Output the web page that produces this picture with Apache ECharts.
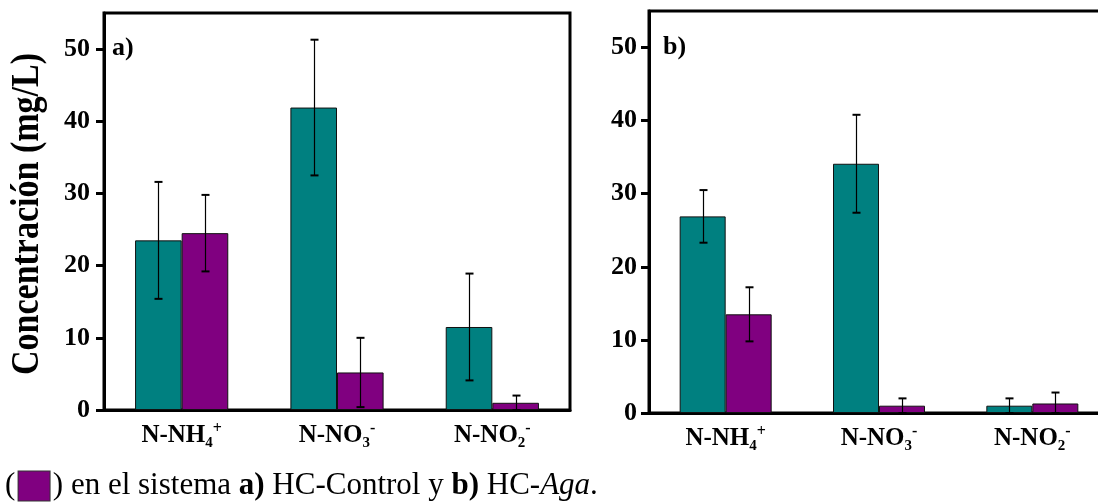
<!DOCTYPE html>
<html>
<head>
<meta charset="utf-8">
<script src="https://cdn.jsdelivr.net/npm/echarts@6/dist/echarts.min.js"></script>
<style>html,body{margin:0;padding:0;background:#fff}#c{width:1098px;height:504px}</style>
</head>
<body>
<div id="c"></div>
<script>
// ---- data ----
const categories = ['N-NH4+', 'N-NO3-', 'N-NO2-'];
const yTicks = [0, 10, 20, 30, 40, 50];
// panel a) HC-Control
const aTeal = [23.5, 41.9, 11.5];
const aTealErr = [8.1, 9.4, 7.4];
const aPurple = [24.5, 5.2, 1.0];
const aPurpleErr = [5.3, 4.8, 1.0];
// panel b) HC-Aga
const bTeal = [26.9, 34.1, 1.0];
const bTealErr = [3.6, 6.7, 1.0];
const bPurple = [13.5, 1.0, 1.3];
const bPurpleErr = [3.7, 1.0, 1.5];

const TEAL = '#008080', PURPLE = '#800080';
const SERIF = "'Liberation Serif', 'Times New Roman', serif";

const labelFmt = {
  'N-NH4+': '{m|N-NH}{sub|4}{sup|+}',
  'N-NO3-': '{m|N-NO}{sub|3}{sup|-}',
  'N-NO2-': '{m|N-NO}{sub|2}{sup|-}'
};
const rich = {
  m: {fontSize: 25, fontWeight: 'bold', fontFamily: SERIF, color: '#000', lineHeight: 30, verticalAlign: 'middle'},
  sub: {fontSize: 15, fontWeight: 'bold', fontFamily: SERIF, color: '#000', lineHeight: 15, verticalAlign: 'bottom'},
  sup: {fontSize: 16, fontWeight: 'bold', fontFamily: SERIF, color: '#000', lineHeight: 15, verticalAlign: 'top'}
};

function errRender(sign) {
  return function (params, api) {
    const ci = api.value(0), v = api.value(1), e = api.value(2);
    const bw = api.size([1, 0])[0];
    const off = sign * bw * 0.15;
    const top = api.coord([ci, v + e]);
    const bot = api.coord([ci, Math.max(v - e, 0)]);
    const x = Math.round(top[0] + off) + 0.5;
    const cap = 4;
    const st = {stroke: '#000', lineWidth: 1.2};
    const cs = {stroke: '#000', lineWidth: 2};
    return {type: 'group', children: [
      {type: 'line', shape: {x1: x, y1: top[1], x2: x, y2: bot[1]}, style: st},
      {type: 'line', shape: {x1: x - cap, y1: top[1], x2: x + cap, y2: top[1]}, style: cs},
      {type: 'line', shape: {x1: x - cap, y1: bot[1], x2: x + cap, y2: bot[1]}, style: cs}
    ]};
  };
}
function errData(vals, errs) { return vals.map((v, i) => [i, v, errs[i]]); }

function xAxisFor(gi) {
  return {
    type: 'category', gridIndex: gi, data: categories,
    axisLine: {lineStyle: {color: '#000', width: 3}},
    axisTick: {alignWithLabel: true, interval: 0, length: 9, lineStyle: {color: '#000', width: 3}},
    axisLabel: {interval: 0, hideOverlap: false, margin: 11, formatter: v => labelFmt[v], rich: rich, color: '#000'}
  };
}
function yAxisFor(gi, margin) {
  return {
    type: 'value', gridIndex: gi, min: 0, max: 55, interval: 10,
    splitLine: {show: false},
    axisLine: {show: true, lineStyle: {color: '#000', width: 3}},
    axisTick: {show: true, length: 8, customValues: yTicks, lineStyle: {color: '#000', width: 3}},
    axisLabel: {margin: margin, customValues: yTicks, color: '#000', fontSize: 26, fontWeight: 'bold', fontFamily: SERIF}
  };
}
const barStyle = c => ({color: c, borderColor: '#111', borderWidth: 1});

const chart = echarts.init(document.getElementById('c'), null, {renderer: 'canvas'});
chart.setOption({
  animation: false,
  backgroundColor: '#fff',
  grid: [
    {left: 104, top: 13, width: 466, height: 397, show: true, borderColor: '#000', borderWidth: 3, backgroundColor: 'transparent', outerBoundsMode: 'none'},
    {left: 649, top: 11, width: 460, height: 402, show: true, borderColor: '#000', borderWidth: 3, backgroundColor: 'transparent', outerBoundsMode: 'none'}
  ],
  xAxis: [xAxisFor(0), xAxisFor(1)],
  yAxis: [yAxisFor(0, 14), yAxisFor(1, 12)],
  series: [
    {type: 'bar', name: 'a-teal', xAxisIndex: 0, yAxisIndex: 0, data: aTeal, barWidth: '30%', barGap: '0%', itemStyle: barStyle(TEAL)},
    {type: 'bar', name: 'a-purple', xAxisIndex: 0, yAxisIndex: 0, data: aPurple, barWidth: '30%', barGap: '0%', itemStyle: barStyle(PURPLE)},
    {type: 'bar', name: 'b-teal', xAxisIndex: 1, yAxisIndex: 1, data: bTeal, barWidth: '30%', barGap: '0%', itemStyle: barStyle(TEAL)},
    {type: 'bar', name: 'b-purple', xAxisIndex: 1, yAxisIndex: 1, data: bPurple, barWidth: '30%', barGap: '0%', itemStyle: barStyle(PURPLE)},
    {type: 'custom', xAxisIndex: 0, yAxisIndex: 0, z: 5, renderItem: errRender(-1), data: errData(aTeal, aTealErr), encode: {x: 0, y: 1}},
    {type: 'custom', xAxisIndex: 0, yAxisIndex: 0, z: 5, renderItem: errRender(1), data: errData(aPurple, aPurpleErr), encode: {x: 0, y: 1}},
    {type: 'custom', xAxisIndex: 1, yAxisIndex: 1, z: 5, renderItem: errRender(-1), data: errData(bTeal, bTealErr), encode: {x: 0, y: 1}},
    {type: 'custom', xAxisIndex: 1, yAxisIndex: 1, z: 5, renderItem: errRender(1), data: errData(bPurple, bPurpleErr), encode: {x: 0, y: 1}}
  ],
  graphic: [
    {type: 'text', x: 28, y: 214, rotation: Math.PI / 2, scaleX: 1, scaleY: 1.18,
      style: {text: 'Concentración (mg/L)', fontSize: 34, fontWeight: 'bold', fontFamily: SERIF, fill: '#000', align: 'center', verticalAlign: 'middle'}},
    {type: 'text', x: 112, y: 48,
      style: {text: 'a)', fontSize: 26, fontWeight: 'bold', fontFamily: SERIF, fill: '#000', align: 'left', verticalAlign: 'middle'}},
    {type: 'text', x: 663, y: 47,
      style: {text: 'b)', fontSize: 26, fontWeight: 'bold', fontFamily: SERIF, fill: '#000', align: 'left', verticalAlign: 'middle'}},
    {type: 'text', x: 5, y: 486,
      style: {
        text: '({g| }{box| }{g| }) en el sistema {b|a)} HC-Control y {b|b)} HC-{i|Aga}.',
        fontSize: 31, fontFamily: SERIF, fill: '#000', align: 'left', verticalAlign: 'middle',
        rich: {
          g: {fontSize: 13, fontFamily: SERIF},
          box: {width: 31, height: 29, backgroundColor: PURPLE, borderColor: '#333', borderWidth: 1, fontSize: 31, fontFamily: SERIF},
          b: {fontSize: 31, fontWeight: 'bold', fontFamily: SERIF, fill: '#000'},
          i: {fontSize: 31, fontStyle: 'italic', fontFamily: SERIF, fill: '#000'}
        }
      }}
  ]
});
</script>
</body>
</html>
